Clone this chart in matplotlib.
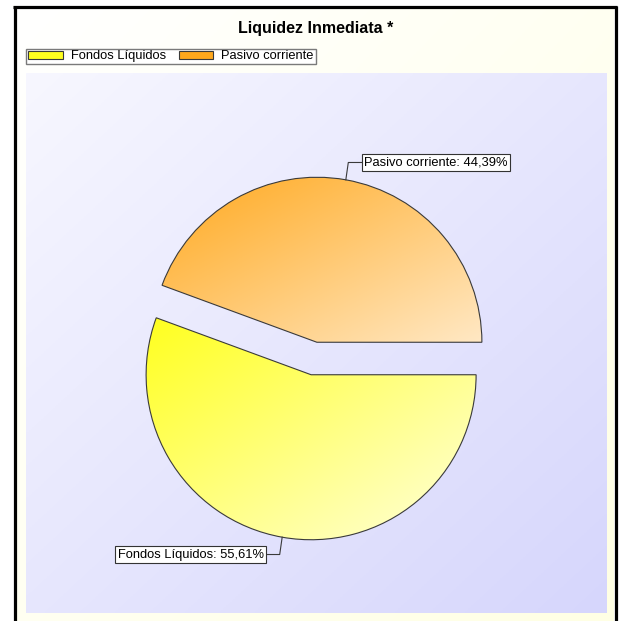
import numpy as np
import matplotlib.pyplot as plt
from matplotlib.lines import Line2D
from matplotlib.colors import to_rgb

plt.rcParams['font.family'] = ['Liberation Sans', 'DejaVu Sans']

# data
labels = ['Fondos Líquidos', 'Pasivo corriente']
values = [55.61, 44.39]
title = 'Liquidez Inmediata *'

# gradient colours (top-left, bottom-right)
slice_colors = [('#FFFF1E', '#FFFFDC'), ('#FFA81C', '#FFE8C4')]
plot_bg = ('#F7F7FF', '#D6D6FC')
fig_bg = ('#FFFFFF', '#FFFFE4')

W, H = 620, 621


def fx(px):
    return px / W


def fy(py):
    return 1 - py / H


def gradient(c0, c1, n=200):
    c0 = np.array(to_rgb(c0))
    c1 = np.array(to_rgb(c1))
    xs = np.linspace(0, 1, n)
    t = (xs[None, :] + xs[:, None]) / 2
    return c0 * (1 - t[..., None]) + c1 * t[..., None]


fig = plt.figure(figsize=(W / 100, H / 100), dpi=100)
fig.patch.set_facecolor('white')

# outer background
bg = fig.add_axes([fx(16), 0, fx(614) - fx(16), fy(8)])
bg.imshow(gradient(*fig_bg), extent=[0, 1, 0, 1], aspect='auto')
bg.axis('off')

# black frame (left, top, right)
frame = dict(color='black', lw=2.3, solid_capstyle='butt')
fig.add_artist(Line2D([fx(14.5), fx(14.5)], [0, fy(5.5)], **frame))
fig.add_artist(Line2D([fx(13.3), fx(616.7)], [fy(6.5), fy(6.5)], **frame))
fig.add_artist(Line2D([fx(615.5), fx(615.5)], [0, fy(5.5)], **frame))

fig.text(fx(316), fy(29), title, ha='center', va='center', fontsize=11.5, fontweight='bold')

# plot area
left, right, top, bottom = 26, 607, 73, 613
ax = fig.add_axes([fx(left), fy(bottom), (right - left) / W, (bottom - top) / H])
r_px = 165
cx, cy = 314, 358.5
xlim = ((left - cx) / r_px, (right - cx) / r_px)
ylim = ((cy - bottom) / r_px, (cy - top) / r_px)

wedges, _ = ax.pie(values, startangle=0, counterclock=False, explode=[0.1, 0.1],
                   colors=[c[0] for c in slice_colors],
                   wedgeprops=dict(edgecolor='#3a3a3a', linewidth=0.8))
ax.set_aspect('auto')
ax.imshow(gradient(*plot_bg), extent=[xlim[0], xlim[1], ylim[0], ylim[1]],
          aspect='auto', zorder=0)
ax.set_xlim(*xlim)
ax.set_ylim(*ylim)

for w, (c0, c1), lab, v in zip(wedges, slice_colors, labels, values):
    verts = w.get_path().vertices
    x0, y0 = verts.min(axis=0)
    x1, y1 = verts.max(axis=0)
    im = ax.imshow(gradient(c0, c1), extent=[x0, x1, y0, y1], aspect='auto', zorder=1.5)
    im.set_clip_path(w)
    w.set_zorder(1.6)
    w.set_facecolor('none')

    tm = np.deg2rad((w.theta1 + w.theta2) / 2)
    px = w.center[0] + w.r * np.cos(tm)
    py = w.center[1] + w.r * np.sin(tm)
    sx = np.sign(np.cos(tm))
    sy = np.sign(np.sin(tm))
    kx, ky = px + 0.015 * sx, py + 0.105 * sy
    ex = kx + 0.085 * sx
    ax.plot([px, kx, ex], [py, ky, ky], color='#3a3a3a', lw=0.8, zorder=3)
    txt = f'{lab}: {v:.2f}%'.replace('.', ',')
    ax.text(ex + 0.012 * sx, ky, txt, ha='left' if sx > 0 else 'right', va='center',
            fontsize=9.3, zorder=4,
            bbox=dict(boxstyle='square,pad=0.18', fc='white', ec='#333333', lw=0.8))

ax.axis('off')

fig.legend(wedges, labels, loc='upper left', bbox_to_anchor=(fx(26), fy(48.5)),
           ncol=2, fontsize=9.3, frameon=True, fancybox=False, edgecolor='#7a7a7a',
           facecolor='white', framealpha=1, borderpad=0.15, handlelength=2.7,
           handleheight=0.6, handletextpad=0.6, columnspacing=1.0, borderaxespad=0)
leg = fig.legends[0]
leg.get_frame().set_linewidth(1.0)
for h, (c0, c1) in zip(leg.legend_handles, slice_colors):
    h.set_facecolor(c0)
    h.set_edgecolor('#3a3a3a')

fig.savefig('out.png', dpi=100)
